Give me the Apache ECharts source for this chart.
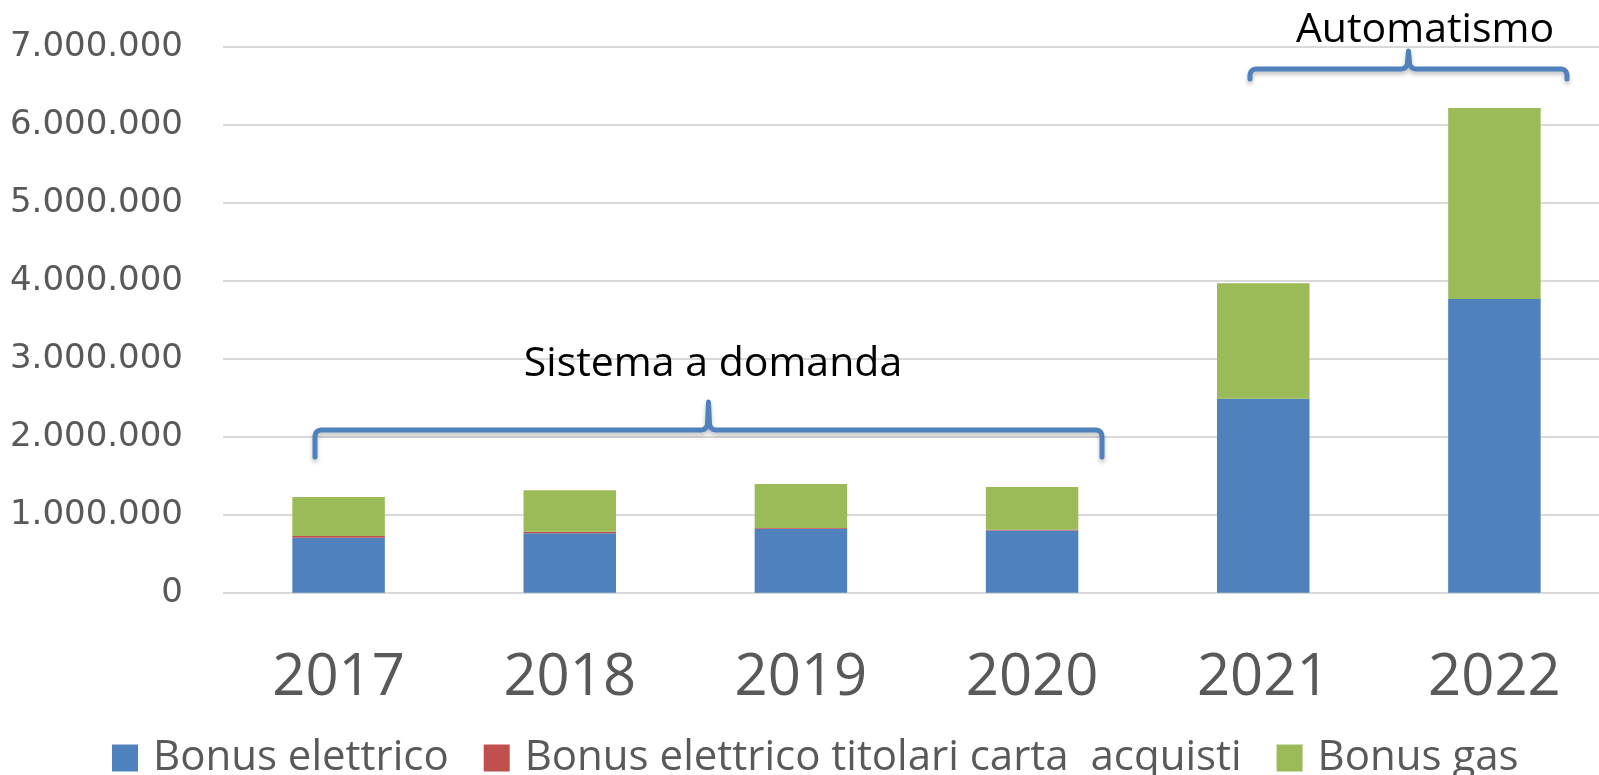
<!DOCTYPE html>
<html>
<head>
<meta charset="utf-8">
<title>Bonus sociali</title>
<script src="https://cdn.jsdelivr.net/npm/echarts/dist/echarts.min.js"></script>
<style>
html, body { margin: 0; padding: 0; background: #fff; overflow: hidden; }
/* il grafico originale è tagliato a destra: l'area è più larga della pagina */
#main { width: 1620px; height: 775px; }
</style>
</head>
<body>
<div id="main"></div>
<script>
// dati
var anni = ['2017', '2018', '2019', '2020', '2021', '2022']
var bonusElettrico = [705000, 761000, 821000, 799000, 2487000, 3765000]
var bonusCartaAcquisti = [21000, 21000, 10000, 8000, 0, 0]
var bonusGas = [500000, 530000, 562000, 548000, 1480000, 2449000]
var yMin = 0
var yMax = 7000000
var yStep = 1000000

var myChart = echarts.init(document.getElementById('main'))

// curva quadratica campionata
function quad (pts, a, b, c) {
  for (var i = 1; i <= 8; i++) {
    var t = i / 8
    var u = 1 - t
    pts.push([u * u * a[0] + 2 * u * t * b[0] + t * t * c[0], u * u * a[1] + 2 * u * t * b[1] + t * t * c[1]])
  }
}

// parentesi graffa orizzontale (annotazione)
function graffa (x1, x2, y, h, picco) {
  var xm = (x1 + x2) / 2
  var r = 7
  var pts = [[x1, y + h], [x1, y + r]]
  quad(pts, [x1, y + r], [x1, y], [x1 + r, y])
  pts.push([xm - 8, y])
  quad(pts, [xm - 8, y], [xm - 2, y], [xm - 1, y - 6])
  pts.push([xm, y - picco])
  pts.push([xm + 1, y - 6])
  quad(pts, [xm + 1, y - 6], [xm + 2, y], [xm + 8, y])
  pts.push([x2 - r, y])
  quad(pts, [x2 - r, y], [x2, y], [x2, y + r])
  pts.push([x2, y + h])
  return pts
}

var stileGraffa = {
  fill: null,
  stroke: '#4f81bd',
  lineWidth: 5,
  lineCap: 'round',
  lineJoin: 'round',
  shadowBlur: 4,
  shadowOffsetY: 3,
  shadowColor: 'rgba(0,0,0,0.25)'
}

var option = {
  animation: false,
  backgroundColor: '#fff',
  grid: {
    left: 223,
    top: 46.7,
    width: 1387,
    height: 546,
    containLabel: false
  },
  legend: {
    left: 107,
    top: 732,
    icon: 'rect',
    itemWidth: 26,
    itemHeight: 27,
    itemGap: 35,
    selectedMode: false,
    textStyle: {
      fontFamily: 'Open Sans',
      fontSize: 42,
      color: '#595959',
      padding: [0, 0, 0, 10]
    },
    data: ['Bonus elettrico', 'Bonus elettrico titolari carta  acquisti', 'Bonus gas']
  },
  xAxis: {
    type: 'category',
    data: anni,
    axisLine: { show: false },
    axisTick: { show: false },
    axisLabel: {
      margin: 57,
      fontFamily: 'Open Sans',
      fontSize: 58,
      color: '#595959'
    }
  },
  yAxis: {
    type: 'value',
    min: yMin,
    max: yMax,
    interval: yStep,
    axisLine: { show: false },
    axisTick: { show: false },
    splitLine: { lineStyle: { color: '#d9d9d9', width: 2 } },
    axisLabel: {
      margin: 40,
      fontFamily: 'DejaVu Sans',
      fontSize: 34,
      color: '#595959',
      formatter: function (v) {
        return String(v).replace(/\B(?=(\d{3})+(?!\d))/g, '.')
      }
    }
  },
  series: [
    {
      name: 'Bonus elettrico',
      type: 'bar',
      stack: 'tot',
      barWidth: 92.5,
      itemStyle: { color: '#4f81bd' },
      data: bonusElettrico
    },
    {
      name: 'Bonus elettrico titolari carta  acquisti',
      type: 'bar',
      stack: 'tot',
      itemStyle: { color: '#c0504d' },
      data: bonusCartaAcquisti
    },
    {
      name: 'Bonus gas',
      type: 'bar',
      stack: 'tot',
      itemStyle: { color: '#9bbb59' },
      data: bonusGas
    }
  ],
  graphic: [
    {
      type: 'polyline',
      shape: { points: graffa(315, 1102, 430, 27, 28) },
      style: stileGraffa,
      z: 100
    },
    {
      type: 'text',
      x: 713,
      y: 364,
      style: {
        text: 'Sistema a domanda',
        fontFamily: 'Open Sans',
        fontSize: 41,
        fill: '#000',
        align: 'center',
        verticalAlign: 'middle'
      },
      z: 100
    },
    {
      type: 'polyline',
      shape: { points: graffa(1250, 1567, 69, 10, 18) },
      style: stileGraffa,
      z: 100
    },
    {
      type: 'text',
      x: 1425,
      y: 30,
      style: {
        text: 'Automatismo',
        fontFamily: 'Open Sans',
        fontSize: 41,
        fill: '#000',
        align: 'center',
        verticalAlign: 'middle'
      },
      z: 100
    }
  ]
}

myChart.setOption(option)
</script>
</body>
</html>
